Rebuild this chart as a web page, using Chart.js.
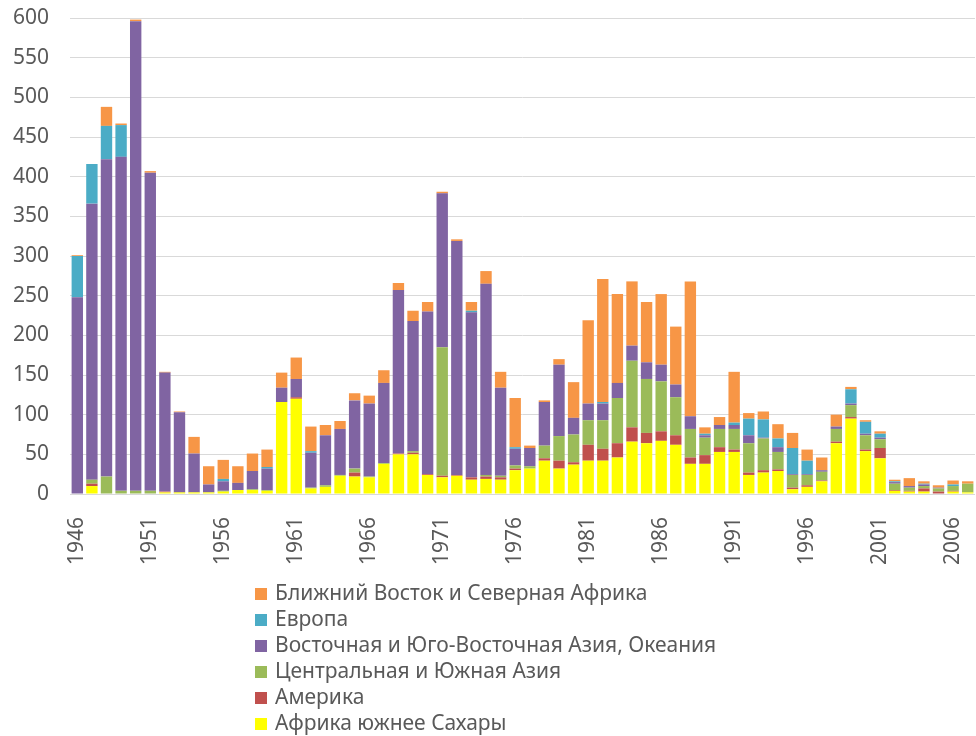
<!DOCTYPE html>
<html>
<head>
<meta charset="utf-8">
<script src="https://cdn.jsdelivr.net/npm/chart.js@4/dist/chart.umd.min.js"></script>
<style>
    body { margin: 0; background: #fff; }
    #wrap { position: relative; width: 976px; height: 736px; }
    #legend { position: absolute; left: 255px; top: 579px; font-family: 'Noto Sans', sans-serif; font-size: 21px; color: #595959; }
    #legend div { height: 26px; line-height: 26px; white-space: nowrap; }
    #legend span { display: inline-block; width: 12px; height: 12px; margin-right: 8px; }
</style>
</head>
<body>
<div id="wrap">
    <canvas id="chart" width="976" height="736"></canvas>
    <div id="legend"></div>
</div>
<script>
// years 1946..2007
const years = [];
for (let y = 1946; y <= 2007; y++) years.push(String(y));

const africaSouth = [0, 10, 0, 0, 0, 0, 2, 2, 2, 2, 3, 5, 5, 4, 116, 120, 7, 9, 23, 22, 21, 38, 50, 50, 24, 21, 23, 18, 19, 18, 30, 32, 42, 32, 37, 42, 42, 46, 66, 64, 67, 62, 38, 38, 53, 53, 24, 27, 29, 6, 9, 16, 64, 95, 54, 45, 4, 3, 3, 0, 3, 2];
const america = [0, 3, 0, 0, 0, 0, 1, 0, 0, 0, 0, 0, 0, 0, 0, 2, 0, 0, 0, 5, 0, 0, 1, 2, 1, 2, 1, 3, 3, 3, 2, 0, 3, 10, 3, 20, 15, 18, 18, 13, 12, 12, 8, 11, 6, 3, 3, 3, 2, 2, 2, 1, 2, 2, 2, 13, 1, 1, 4, 3, 1, 0];
const centralSouthAsia = [0, 5, 22, 4, 4, 4, 0, 0, 0, 0, 1, 0, 1, 1, 0, 0, 1, 2, 1, 5, 1, 1, 0, 2, 0, 162, 0, 0, 2, 2, 4, 3, 16, 31, 35, 31, 36, 57, 84, 68, 63, 48, 36, 22, 23, 26, 37, 40, 22, 16, 13, 11, 16, 15, 18, 11, 8, 4, 3, 4, 6, 11];
const eastAsiaOceania = [248, 348, 400, 421, 592, 401, 150, 101, 49, 10, 12, 9, 23, 27, 18, 23, 44, 63, 58, 86, 92, 101, 206, 164, 205, 194, 295, 208, 241, 111, 21, 23, 55, 90, 21, 21, 21, 19, 19, 21, 21, 16, 16, 3, 5, 5, 10, 1, 6, 1, 1, 2, 3, 2, 2, 2, 2, 2, 2, 1, 0, 0];
const europe = [52, 50, 42, 40, 0, 0, 0, 0, 0, 0, 3, 0, 0, 2, 0, 0, 2, 0, 0, 0, 0, 0, 0, 0, 0, 0, 0, 2, 0, 0, 2, 0, 0, 0, 0, 0, 2, 0, 0, 0, 0, 0, 0, 2, 0, 3, 21, 23, 11, 33, 17, 0, 0, 18, 15, 5, 1, 0, 1, 0, 2, 0];
const middleEastNAfrica = [1, 0, 24, 2, 2, 2, 1, 1, 21, 23, 24, 21, 22, 22, 19, 27, 31, 13, 10, 9, 10, 16, 9, 13, 12, 2, 2, 11, 16, 20, 62, 3, 2, 7, 45, 105, 155, 112, 81, 76, 89, 73, 170, 8, 10, 64, 7, 10, 18, 19, 14, 16, 15, 3, 2, 3, 2, 10, 3, 3, 5, 3];

const yTicks = [0, 50, 100, 150, 200, 250, 300, 350, 400, 450, 500, 550, 600];

const data = {
    labels: years,
    datasets: [
        { label: 'Африка южнее Сахары', data: africaSouth, backgroundColor: '#FFFF00' },
        { label: 'Америка', data: america, backgroundColor: '#C0504D' },
        { label: 'Центральная и Южная Азия', data: centralSouthAsia, backgroundColor: '#9BBB59' },
        { label: 'Восточная и Юго-Восточная Азия, Океания', data: eastAsiaOceania, backgroundColor: '#8064A2' },
        { label: 'Европа', data: europe, backgroundColor: '#4BACC6' },
        { label: 'Ближний Восток и Северная Африка', data: middleEastNAfrica, backgroundColor: '#F79646' }
    ]
};

Chart.defaults.font.family = "'Noto Sans', sans-serif";
Chart.defaults.color = '#595959';

const config = {
    type: 'bar',
    data: data,
    options: {
        responsive: false,
        animation: false,
        layout: { padding: { top: 18, right: 1, bottom: 172, left: 0 } },
        datasets: { bar: { categoryPercentage: 1, barPercentage: 0.78 } },
        plugins: {
            legend: { display: false },
            tooltip: { enabled: false }
        },
        scales: {
            x: {
                stacked: true,
                grid: { display: false },
                border: { display: false },
                afterFit: s => {
                    s.height = 70;
                    s.paddingLeft = 0;
                    s.paddingRight = 0;
                },
                ticks: {
                    autoSkip: false,
                    minRotation: 90,
                    maxRotation: 90,
                    padding: 15,
                    font: { size: 21 },
                    callback: (v, i) => (i % 5 === 0 ? years[i] : '')
                }
            },
            y: {
                stacked: true,
                min: yTicks[0],
                max: yTicks[yTicks.length - 1],
                afterFit: s => {
                    s.width = 70;
                    s.paddingTop = 0;
                    s.paddingBottom = 0;
                },
                afterBuildTicks: s => { s.ticks = yTicks.map(v => ({ value: v })); },
                grid: { color: '#D9D9D9', lineWidth: 1, drawTicks: false },
                border: { display: false },
                ticks: { padding: 21, font: { size: 21 } }
            }
        }
    }
};

const chart = new Chart(document.getElementById('chart'), config);

// legend: top of the stack first, one item per line
const legend = document.getElementById('legend');
data.datasets.slice().reverse().forEach(ds => {
    const row = document.createElement('div');
    const box = document.createElement('span');
    box.style.background = ds.backgroundColor;
    row.appendChild(box);
    row.appendChild(document.createTextNode(ds.label));
    legend.appendChild(row);
});
</script>
</body>
</html>
